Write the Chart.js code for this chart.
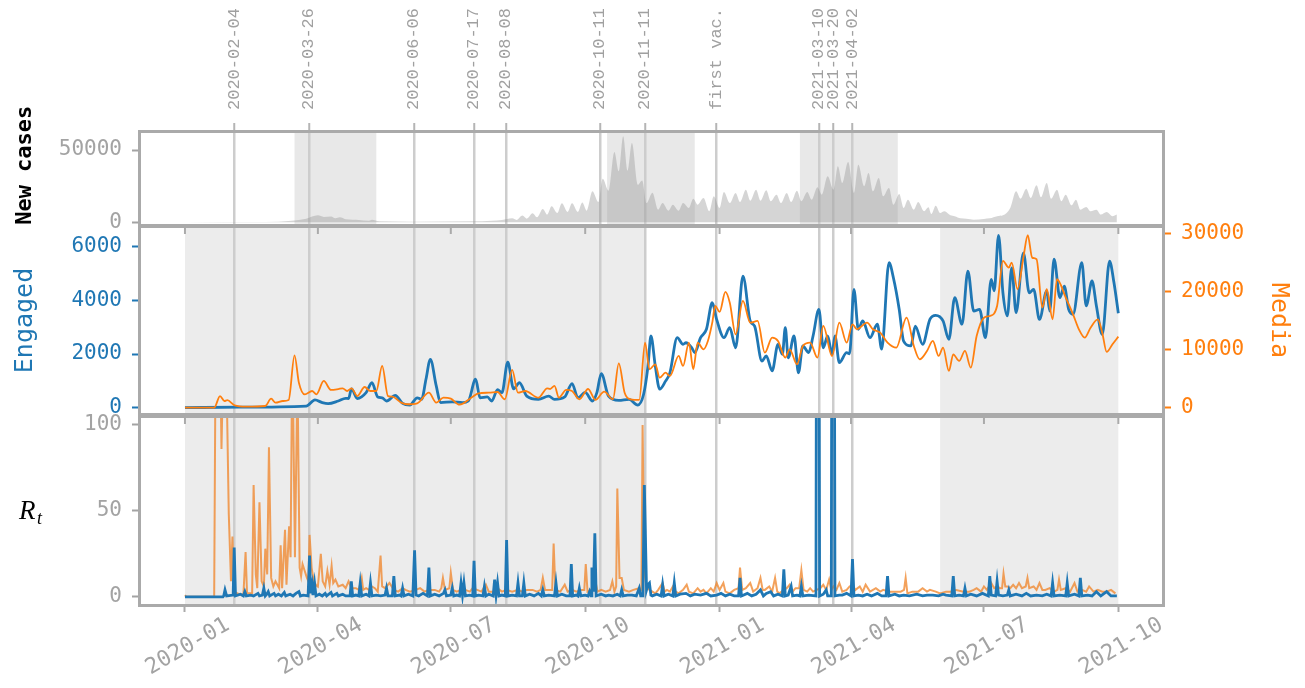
<!DOCTYPE html>
<html>
<head>
<meta charset="utf-8">
<script src="https://cdn.jsdelivr.net/npm/chart.js@4.4.1/dist/chart.umd.min.js"></script>
<style>
html,body{margin:0;padding:0;background:#fff;}
#wrap{position:relative;width:1305px;height:688px;overflow:hidden;}
#wrap canvas{position:absolute;left:0;top:0;}
</style>
</head>
<body>
<div id="wrap">
<canvas id="cTop" width="1305" height="688"></canvas>
<canvas id="cMid" width="1305" height="688"></canvas>
<canvas id="cBot" width="1305" height="688"></canvas>
</div>
<script>
// ---------------- DATA (x = days since 2020-01-01) ----------------
const quarterTicks = ['2020-01','2020-04','2020-07','2020-10','2021-01','2021-04','2021-07','2021-10'];
const eventDates  = ['2020-02-04','2020-03-26','2020-06-06','2020-07-17','2020-08-08','2020-10-11','2020-11-11','2020-12-30','2021-03-10','2021-03-20','2021-04-02'];
const eventLabels = ['2020-02-04','2020-03-26','2020-06-06','2020-07-17','2020-08-08','2020-10-11','2020-11-11','first vac.','2021-03-10','2021-03-20','2021-04-02'];
const casesBands  = [['2020-03-16','2020-05-11'],['2020-10-16','2020-12-15'],['2021-02-25','2021-05-03']];
const signalBands = [['2020-01-01','2020-11-11'],['2021-06-01','2021-10-01']];

const casesTicks   = [0, 50000];
const engagedTicks = [0, 2000, 4000, 6000];
const mediaTicks   = [0, 10000, 20000, 30000];
const rtTicks      = [0, 50, 100];

const newCases = [[0,0],[55,100],[73,1100],[83,2500],[91,4800],[95,3700],[100,4000],[103,2700],[106,3400],[110,2100],[119,1600],[126,1100],[128,1800],[133,650],[156,400],[197,650],[210,1100],[217,1600],[224,2700],[227,1600],[231,4600],[234,2500],[238,6200],[241,3400],[245,9200],[248,5300],[251,11100],[255,6400],[258,13100],[262,7100],[265,13100],[269,7100],[272,13600],[275,8000],[279,21400],[283,14000],[286,30200],[290,21900],[294,48600],[297,35300],[300,59500],[303,35700],[306,54800],[310,26000],[313,29000],[316,13300],[320,20500],[324,8700],[327,13300],[331,8000],[334,12200],[338,8000],[341,13300],[345,9900],[348,16300],[351,12200],[355,16800],[359,7600],[362,18000],[366,9900],[369,20900],[373,13300],[377,20300],[380,14000],[384,22500],[387,14900],[391,22500],[394,14900],[398,22100],[401,14500],[405,19100],[408,13300],[412,20300],[415,14000],[419,21800],[422,14500],[426,20900],[429,15600],[433,24200],[436,19100],[440,31800],[444,22500],[447,38700],[450,27200],[454,41700],[458,20300],[461,39800],[465,24900],[468,34100],[471,21400],[475,30600],[478,18000],[482,23700],[485,12200],[489,19600],[492,9900],[495,15600],[499,8700],[502,14000],[506,7600],[509,10400],[511,5700],[514,11500],[517,6400],[520,7600],[524,4800],[527,4200],[531,2700],[535,2500],[540,1800],[547,2300],[551,2700],[556,4200],[560,4800],[565,9900],[569,21400],[572,16300],[576,23200],[579,16800],[583,25600],[586,17300],[590,27200],[593,16300],[597,22500],[600,14500],[603,19100],[607,11700],[610,15600],[613,8700],[617,10600],[620,7600],[624,8700],[627,5300],[631,7100],[635,4200],[638,5300]];

const engaged = [[0,0],[37,20],[83,60],[89,290],[94,190],[98,150],[105,250],[110,350],[112,340],[114,700],[118,340],[124,560],[128,930],[132,400],[135,370],[138,250],[144,460],[149,160],[154,100],[159,370],[162,310],[165,1060],[168,1800],[172,820],[175,190],[183,220],[190,190],[194,250],[199,1060],[202,370],[207,400],[210,250],[214,670],[217,560],[221,1700],[225,700],[229,930],[234,430],[242,310],[249,430],[253,310],[260,400],[265,900],[269,370],[274,570],[279,250],[282,560],[285,1270],[290,430],[297,270],[304,310],[310,100],[314,500],[317,1550],[319,2670],[322,1550],[325,690],[329,990],[332,1300],[337,2610],[341,2360],[343,2420],[347,2230],[349,2050],[353,2610],[357,2920],[361,3910],[364,3290],[369,2610],[373,2980],[377,2230],[382,4900],[387,3230],[390,3040],[395,1740],[398,1930],[402,1370],[406,2360],[409,1990],[411,2980],[413,1860],[417,2670],[420,1300],[423,2300],[427,2050],[430,2670],[434,3660],[437,2230],[440,2670],[443,1990],[445,2670],[448,1680],[453,2050],[455,2010],[458,4410],[461,2920],[464,3230],[469,2610],[474,3110],[477,2180],[482,5400],[485,4840],[489,3660],[492,2480],[497,2300],[500,3040],[505,2360],[510,3290],[514,3440],[519,3230],[523,2550],[527,4100],[532,3110],[536,5090],[540,3600],[544,3660],[548,2610],[552,4780],[554,4350],[557,6420],[560,4280],[563,3420],[566,5210],[569,3540],[574,5770],[578,4280],[581,4410],[585,3290],[590,4350],[592,3600],[595,5530],[599,4100],[602,4530],[605,3660],[608,3480],[614,5400],[617,3790],[621,4720],[624,3790],[628,2730],[633,5460],[636,4660],[639,3520]];

const media = [[0,0],[20,0],[24,2000],[27,1150],[29,1300],[34,400],[42,170],[55,290],[59,1550],[62,870],[67,1150],[71,1330],[75,9000],[78,4300],[82,2300],[87,2870],[90,2300],[95,4600],[100,3050],[105,3200],[108,3340],[111,2870],[114,3340],[118,2000],[123,3560],[127,2870],[131,2870],[135,7180],[139,2000],[142,1900],[148,870],[152,590],[159,750],[167,2580],[172,870],[177,1720],[182,1550],[188,520],[196,1720],[201,2480],[208,2580],[214,2700],[219,1450],[224,6490],[228,2580],[233,2870],[242,1720],[248,3340],[250,3220],[253,3740],[256,1720],[261,3050],[265,2870],[270,1450],[276,3220],[281,1330],[287,2760],[293,1450],[297,7640],[301,2580],[305,1450],[311,1330],[315,11190],[318,6600],[322,7470],[325,5160],[329,6020],[332,5460],[338,8900],[341,7180],[345,11190],[348,6610],[351,11190],[355,10050],[358,11480],[361,14630],[363,17500],[366,16470],[370,19910],[373,18070],[377,12630],[382,18360],[387,14630],[392,14920],[397,9470],[402,12050],[406,11480],[411,8610],[414,10050],[419,7470],[423,10620],[428,11190],[433,8610],[437,14060],[443,8900],[448,14630],[453,11190],[457,14350],[460,13490],[467,14630],[471,13490],[476,12910],[481,11190],[487,10330],[494,15490],[499,10620],[503,8330],[508,9760],[512,11480],[516,8900],[519,10330],[523,6320],[526,9190],[530,8040],[534,9760],[538,6880],[542,12340],[547,15490],[551,15780],[556,17500],[560,25250],[564,24090],[566,24950],[570,20380],[574,25820],[577,29670],[580,25820],[583,25540],[587,17210],[590,20380],[594,15210],[597,22100],[603,18930],[608,16070],[612,13490],[616,12050],[620,13770],[625,15210],[628,12910],[631,9590],[635,10910],[639,12220]];

const rtEngaged = [[0,0],[26,0],[26.5,0.5],[27.4,4],[28.5,0.5],[33,1],[33.7,28.6],[34.6,0.5],[38,1.5],[40,0.5],[41,3],[42,0.5],[45,1],[47,0.5],[50,2],[51,0.5],[53,1],[54,5],[55,0.5],[56,1.5],[57,3],[58,0.5],[61,2],[62,0.5],[64,1.5],[66,0.5],[68,2.5],[69,0.5],[72,1.5],[74,0.5],[76,2],[78,3],[79,0.5],[81,1],[84.3,0.5],[85.3,24],[86,2],[87,7],[87.6,1],[88.7,8],[89.7,0.5],[92,1.5],[94,0.5],[96,2],[97,0.5],[100,2.5],[101,0.5],[104,2],[105,0.5],[108,1.5],[110,0.5],[113,0.5],[113.9,9],[114.8,0.5],[117,1],[119,0.5],[120,8],[121,0.5],[124,1.5],[126,0.5],[127,8],[128,0.5],[131,1],[134,0.5],[137,1],[138,5],[139,0.5],[142,0.5],[143,12],[144,0.5],[147,1],[148,0.5],[149,5],[150,0.5],[153,1.5],[156,0.5],[157.2,27],[158.2,1],[160,0.5],[163,2],[166,0.5],[167,17],[168,0.5],[171,1.5],[174,0.5],[177,2],[178,4],[179,0.5],[182,1],[183,5],[184,0.5],[186,1],[188,0.5],[189,8],[190,1],[191,8],[192,0.5],[195,1],[197,0.5],[197.9,21],[198.8,0.5],[201,1],[204,0.5],[205,6],[206,0.5],[208,1.5],[211,0.5],[212,10],[213,1],[214,8],[215,0.5],[217,1],[219.3,0.5],[220.2,33],[221.1,0.5],[224,1],[227,0.5],[228,8],[229,0.5],[231,0.5],[232,8],[233,0.5],[236,1.5],[239,0.5],[242,2],[244,0.5],[245,4],[246,0.5],[249,1],[253,0.5],[254,8],[255,0.5],[258,1.5],[261,0.5],[263.6,0.5],[264.5,19],[265.4,0.5],[268,1],[269,0.5],[270,5],[271,0.5],[274,1],[276,0.5],[277,3],[278,0.5],[278.6,17],[279.6,3],[280.6,37],[281.5,0.5],[285,1.5],[288,0.5],[290,1],[293,0.5],[296,1.5],[298,0.5],[299,4],[300,0.5],[303,1],[306,1],[309,0.5],[311,5],[312,0.5],[313.5,0.5],[314.5,65],[316,4],[317,7],[318,8],[319,1],[320,0.5],[323,1.5],[326,0.5],[327,7],[328,0.5],[331,1.5],[334,0.5],[335,8],[336,0.5],[339,1.5],[343,2],[346,0.5],[349,1.5],[353,1],[357,2],[360,0.5],[364,1],[367,2],[370,0.5],[373,1.5],[376,0.5],[379,0.5],[380,11],[381,0.5],[385,2],[388,0.5],[391,1.5],[394,4],[396,0.5],[398,2],[401,3],[403,0.5],[406,1.5],[409,0.5],[410,16],[411,0.5],[413,1],[415,6],[416,0.5],[419,1],[421,0.5],[422,6],[423,0.5],[427,1],[432,0.5],[432.6,300],[433.8,300],[434.5,0.5],[437,1.5],[439,4],[440,0.5],[442.5,0.5],[443.1,300],[444.3,300],[445,0.5],[448,1],[450,1],[453,2],[456,0.5],[457,22],[458,0.5],[461,1],[464,0.5],[467,1.5],[470,0.5],[474,2],[477,0.5],[480,0.5],[481,12],[482,0.5],[486,1.5],[489,0.5],[492,1],[496,0.5],[501,1.5],[505,0.5],[508,1],[512,1],[516,0.5],[519,1.5],[521,1],[525,0.5],[526,12],[527,0.5],[530,1],[533,0.5],[534,5],[535,0.5],[538,1.5],[542,0.5],[546,2],[550,0.5],[551,12],[552,1],[555,0.5],[556,9],[557,1],[560,0.5],[563,1],[564,4],[565,0.5],[569,1.5],[573,0.5],[576,2],[579,0.5],[583,1],[587,0.5],[590,1.5],[593,0.5],[594,8],[595,0.5],[599,1],[603,0.5],[604,8],[605,0.5],[609,1.5],[612,0.5],[613,11],[614,0.5],[618,1],[621,0.5],[624,3],[627,0.5],[631,3],[634,0.5],[638,0.5]];

const rtMedia = [[0,1],[1,0],[20,0],[21,150],[24,150],[25,86],[26.5,150],[28,150],[30,48],[31.5,9],[32.5,35],[33.5,3],[36,2],[40,1],[41.5,26],[42.5,2],[46,2],[47,65],[48.5,13],[49.5,5],[51,55],[52.5,9],[54,6],[55,28],[56.3,13],[57.5,87],[59,11],[60.5,6],[62,9],[64.5,5],[65.5,30],[66.5,5],[68.5,39],[69.5,7],[71.3,41],[72.3,23],[73.5,150],[75.3,23],[77,130],[78.5,17],[79.5,12],[80.5,19],[82,15],[83.5,11],[84.5,9],[85.3,36],[86.7,17],[88,10],[89.5,7],[91,6],[93,25],[94.3,9],[96,6],[97.5,15],[99,7],[100.4,18],[101.5,8],[103,10],[105,6],[108,7],[110,5],[112,9],[114,5],[117,5],[119,4],[121,11],[122,4],[124,5],[126,4],[128,6],[130,5],[132,3],[133.9,24],[135,6],[137,5],[140,8],[143,4],[146,3],[149,5],[151,4],[154,3],[158,4],[161,5],[164,3],[167,4],[171,4],[174,3],[175.5,5],[176.6,11],[178,4],[181,5],[182,14],[183.5,4],[186,3],[189,4],[192,4],[195,3],[197,5],[200,4],[203,3],[206,7],[208,3],[211,3],[214,5],[217,3],[220,4],[224,3],[228,4],[231,3],[234,4],[238,4],[241,3],[243.5,4],[245,11],[246.5,4],[251.4,4],[252.4,31],[253.6,4],[257,3],[260,7],[262,3],[265,4],[268,3],[271,4],[273.4,4],[274.4,19],[275.6,3],[278,4],[281,9],[282.5,3],[285,4],[288,3],[291,4],[292.6,9],[294,3],[295.2,6],[296,63],[297.5,11],[299,11],[300.5,4],[304,3],[307,4],[311,5],[312.5,4],[313.3,100],[314.5,15],[316,6],[318,4],[322,2],[324,4],[327,8],[328.5,3],[330,4],[332,3],[334,6],[336,3],[338,2],[341,4],[343.5,7],[345,3],[348,2],[351,5],[353,3],[355,4],[357,2],[360,5],[362,3],[364,8],[366,4],[368.6,8],[370,3],[373,2],[376,4],[379,5],[380,17],[381.5,4],[384,5],[387,8],[389,3],[392,5],[394,11],[395.5,4],[397,4],[400,6],[402,3],[404,11],[405.5,3],[407,2],[410,4],[412,5],[414,7],[416,3],[418,5],[420.5,5],[422,15.5],[423.5,4],[426,3],[428,5],[430,3],[432.5,4],[435,5],[437,7],[439,4],[441,10],[442.5,4],[444,6],[446,4],[448,8],[450,3],[453,4],[455,6],[457,7],[459,4],[462,6],[464,3],[466,7],[469,3],[473,5],[476,3],[478,4],[482,3],[486,3],[490,3],[492.3,4],[493.4,11],[494.6,2],[498,3],[502,3],[505,5],[508,3],[510,4],[514,3],[517,2],[521,3],[524,3],[528,4],[533,3],[537,3],[540,4],[542,5],[545,3],[547,6],[549,4],[552,8],[554,5],[556,6],[558,5],[559.4,5],[560.4,13.5],[561.6,6],[563,6],[565,5],[567,7],[569,5],[571,8],[573,5],[575.6,6],[576.8,11],[578,5],[581,6],[583,4],[585,8],[587,4],[589,4],[592,5],[595,3],[597.3,4],[598.4,10],[599.6,4],[603,5],[606,3],[609,8],[611,3],[614,4],[617,3],[619,6],[622,3],[625,4],[628,3],[631,3],[634,4],[637,2]];

// ---------------- helpers ----------------
const dayOf = s => { const p = s.split('-').map(Number); return (Date.UTC(p[0], p[1]-1, p[2] || 1) - Date.UTC(2020,0,1)) / 86400000; };
const pts = arr => arr.map(([d, v]) => ({x: d, y: v}));
const X_MIN = -30.1, X_MAX = 668.9;
const MONO = "'DejaVu Sans Mono', monospace";
const GREY_TXT = '#a3a3a3';
const BLUE = '#1f77b4', ORANGE = '#ff7f0e';

const bandsPlugin = {
  id: 'bands',
  beforeDraw(chart, args, opts) {
    const {ctx, chartArea: a} = chart; const xs = chart.scales.x;
    ctx.save(); ctx.beginPath(); ctx.rect(a.left, a.top, a.right - a.left, a.bottom - a.top); ctx.clip();
    ctx.fillStyle = opts.color;
    (opts.bands || []).forEach(([s, e]) => {
      const x1 = xs.getPixelForValue(dayOf(s)), x2 = xs.getPixelForValue(dayOf(e));
      ctx.fillRect(x1, a.top, x2 - x1, a.bottom - a.top);
    });
    ctx.restore();
  }
};
const framePlugin = {
  id: 'frame',
  afterDraw(chart, args, opts) {
    const {ctx, chartArea: a} = chart; const xs = chart.scales.x;
    ctx.save();
    ctx.strokeStyle = '#aaaaaa'; ctx.lineWidth = 3;
    ctx.strokeRect(a.left - 1.5, a.top - 1.5, a.right - a.left + 3, a.bottom - a.top + 3);
    if (opts.topTicks) {
      ctx.lineWidth = 2; ctx.strokeStyle = '#aaaaaa';
      quarterTicks.forEach(q => {
        const x = xs.getPixelForValue(dayOf(q + '-01'));
        ctx.beginPath(); ctx.moveTo(x, a.top); ctx.lineTo(x, a.top + 6); ctx.stroke();
      });
    }
    ctx.restore();
  }
};
const rtLabelPlugin = {
  id: 'rtLabel',
  afterDraw(chart) {
    const {ctx, chartArea: a} = chart; const yc = (a.top + a.bottom) / 2;
    ctx.save(); ctx.fillStyle = '#000'; ctx.textBaseline = 'alphabetic'; ctx.textAlign = 'left';
    ctx.font = "italic 27px 'Liberation Serif', serif"; ctx.fillText('R', 19, yc + 8);
    ctx.font = "italic 18px 'Liberation Serif', serif"; ctx.fillText('t', 37, yc + 13);
    ctx.restore();
  }
};

function evAxis(showLabels) {
  return {
    type: 'linear', position: 'top', min: X_MIN, max: X_MAX,
    afterBuildTicks: s => { s.ticks = eventDates.map(d => ({value: dayOf(d)})); },
    afterFit: s => { s.height = showLabels ? 133 : 0; },
    ticks: { display: showLabels, autoSkip: false, minRotation: 90, maxRotation: 90, padding: 13, labelOffset: 20,
             color: '#a0a0a0', font: {family: "'Liberation Mono', monospace", size: 17},
             callback: (v, i) => eventLabels[i] },
    grid: { color: '#cdcdcd', lineWidth: 2.5, drawTicks: showLabels, tickLength: 10, tickColor: '#b5b5b5', tickWidth: 2 },
    border: { display: false }
  };
}
function xMain(show) {
  return {
    type: 'linear', position: 'bottom', min: X_MIN, max: X_MAX, display: show,
    afterBuildTicks: s => { s.ticks = quarterTicks.map(q => ({value: dayOf(q + '-01')})); },
    afterFit: s => { if (show) s.height = 84; },
    ticks: { autoSkip: false, minRotation: 30, maxRotation: 30, labelOffset: 43, padding: 0,
             color: GREY_TXT, font: {family: MONO, size: 22}, callback: (v, i) => quarterTicks[i] },
    grid: { drawOnChartArea: false, drawTicks: true, tickLength: 8, tickColor: '#aaaaaa', tickWidth: 2 },
    border: { display: false }
  };
}
function yAxis(o) {
  return {
    type: 'linear', position: o.position, min: o.min, max: o.max,
    afterBuildTicks: s => { s.ticks = o.ticks.map(v => ({value: v})); },
    afterFit: s => { s.width = o.width; },
    ticks: { color: o.color, font: {family: MONO, size: 21}, padding: 10, callback: v => String(v) },
    grid: { drawOnChartArea: false, drawTicks: true, tickLength: 9, tickColor: o.tickColor || o.color, tickWidth: 2 },
    border: { display: false },
    title: o.title ? { display: true, text: o.title, color: o.titleColor,
                       font: {family: MONO, size: o.titleSize || 25, weight: o.bold ? 'bold' : 'normal'},
                       padding: {top: o.titlePad, bottom: 0} } : {display: false}
  };
}
const common = {
  responsive: false, animation: false, devicePixelRatio: 1, events: [],
  elements: { point: { radius: 0 } }
};

// ---------------- top: new cases ----------------
new Chart(document.getElementById('cTop'), {
  type: 'line',
  data: { datasets: [{ data: pts(newCases), borderWidth: 0, fill: 'origin',
                       backgroundColor: 'rgba(150,150,150,0.4)', cubicInterpolationMode: 'monotone' }] },
  options: Object.assign({}, common, {
    layout: { padding: { left: 0, right: 143, top: 0, bottom: 464 } },
    scales: {
      x: xMain(false), xEv: evAxis(true),
      y: yAxis({position: 'left', min: -1200, max: 61800, ticks: casesTicks, color: GREY_TXT, width: 141,
                title: '  New cases', titleColor: '#000', bold: true, titleSize: 22, titlePad: 12})
    },
    plugins: { legend: {display: false}, tooltip: {enabled: false},
               bands: { color: '#e8e8e8', bands: casesBands }, frame: { topTicks: false } }
  }),
  plugins: [bandsPlugin, framePlugin]
});

// ---------------- middle: engaged / media ----------------
new Chart(document.getElementById('cMid'), {
  type: 'line',
  data: { datasets: [
    { data: pts(media), yAxisID: 'y2', borderColor: ORANGE, borderWidth: 1.8, cubicInterpolationMode: 'monotone', fill: false },
    { data: pts(engaged), yAxisID: 'y', borderColor: BLUE, borderWidth: 2.8, cubicInterpolationMode: 'monotone', fill: false }
  ] },
  options: Object.assign({}, common, {
    layout: { padding: { left: 0, right: 0, top: 228, bottom: 275 } },
    scales: {
      x: xMain(false), xEv: evAxis(false),
      y: yAxis({position: 'left', min: -197, max: 6693, ticks: engagedTicks, color: BLUE, width: 141,
                title: 'Engaged', titleColor: BLUE, titlePad: 10}),
      y2: yAxis({position: 'right', min: -912, max: 30913, ticks: mediaTicks, color: ORANGE, width: 143,
                 title: 'Media', titleColor: ORANGE, titlePad: 12})
    },
    plugins: { legend: {display: false}, tooltip: {enabled: false},
               bands: { color: '#ececec', bands: signalBands }, frame: { topTicks: true } }
  }),
  plugins: [bandsPlugin, framePlugin]
});

// ---------------- bottom: R_t ----------------
new Chart(document.getElementById('cBot'), {
  type: 'line',
  data: { datasets: [
    { data: pts(rtEngaged), borderColor: BLUE, borderWidth: 2.8, tension: 0, fill: false },
    { data: pts(rtMedia), borderColor: 'rgba(240,135,45,0.78)', borderWidth: 2, tension: 0, fill: false }
  ] },
  options: Object.assign({}, common, {
    layout: { padding: { left: 0, right: 143, top: 418, bottom: 0 } },
    scales: {
      x: xMain(true), xEv: evAxis(false),
      y: yAxis({position: 'left', min: -4.2, max: 104.05, ticks: rtTicks, color: GREY_TXT, width: 141})
    },
    plugins: { legend: {display: false}, tooltip: {enabled: false},
               bands: { color: '#ececec', bands: signalBands }, frame: { topTicks: true } }
  }),
  plugins: [bandsPlugin, framePlugin, rtLabelPlugin]
});
</script>
</body>
</html>
